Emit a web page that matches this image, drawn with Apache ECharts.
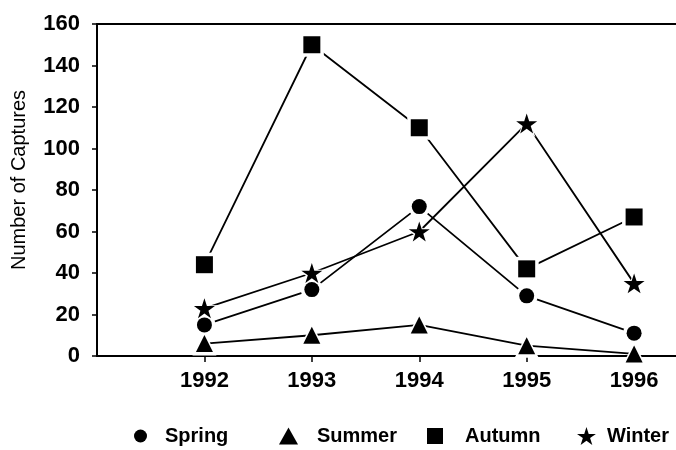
<!DOCTYPE html>
<html>
<head>
<meta charset="utf-8">
<script src="https://cdn.jsdelivr.net/npm/echarts@6/dist/echarts.min.js"></script>
<style>html,body{margin:0;padding:0;background:#fff}#c{width:676px;height:450px}</style>
</head>
<body>
<div id="c"></div>
<script>
var years = [1992, 1993, 1994, 1995, 1996];
var spring = [15, 32, 72, 29, 11];
var summer = [6, 10, 15, 5, 1];
var autumn = [44, 150, 110, 42, 67];
var winter = [23, 40, 60, 112, 35];
var yTicks = [0, 20, 40, 60, 80, 100, 120, 140, 160];

var STAR = 'path://M100,0 L122.45,69.1 L195.11,69.1 L136.33,111.8 L158.78,180.9 L100,138.2 L41.22,180.9 L63.67,111.8 L4.89,69.1 L77.55,69.1 Z';
var FONT = '"Liberation Sans", Arial, sans-serif';

function pairs(vals) { return years.map(function (y, i) { return [y, vals[i]]; }); }

function lineSeries(name, vals) {
  return {
    name: name + ' line', type: 'line', data: pairs(vals), showSymbol: false, symbol: 'none',
    lineStyle: { color: '#000', width: 1.8 }, emphasis: { disabled: true }, silent: true, z: 2
  };
}
function haloSeries(name, vals, symbol, size) {
  return {
    name: name + ' halo', type: 'line', data: pairs(vals), symbol: symbol, symbolSize: size + 7,
    symbolKeepAspect: true, lineStyle: { opacity: 0, width: 0 },
    itemStyle: { color: '#fff', borderWidth: 0 }, emphasis: { disabled: true }, silent: true, z: 3
  };
}
function markSeries(name, vals, symbol, size) {
  return {
    name: name, type: 'line', data: pairs(vals), symbol: symbol, symbolSize: size,
    symbolKeepAspect: true, lineStyle: { opacity: 0, width: 0 },
    itemStyle: { color: '#000', borderWidth: 0 }, emphasis: { disabled: true }, z: 4
  };
}

function mkLegend(name, icon, w, h, left, gap) {
  return {
    data: [{ name: name, icon: icon }],
    left: left, top: 426, padding: 0,
    itemWidth: w, itemHeight: h,
    itemStyle: { color: '#000', borderWidth: 0 },
    textStyle: { color: '#000', fontSize: 20, fontWeight: 'bold', fontFamily: FONT, padding: [0, 0, 0, gap] },
    selectedMode: false
  };
}

var chart = echarts.init(document.getElementById('c'));
chart.setOption({
  animation: false,
  backgroundColor: '#fff',
  grid: { left: 97, right: 0, top: 24, bottom: 94, containLabel: false },
  xAxis: [{
    type: 'value', min: 1991, max: 1996.39, interval: 1,
    axisLine: { show: true, lineStyle: { color: '#000', width: 2 } },
    axisTick: { show: true, length: 6, lineStyle: { color: '#000', width: 1.5 }, customValues: years },
    axisLabel: { customValues: years, color: '#000', fontSize: 22, fontWeight: 'bold', fontFamily: FONT, margin: 14,
      formatter: function (v) { return years.indexOf(v) >= 0 ? String(v) : ''; } },
    splitLine: { show: false }
  }, {
    type: 'value', position: 'top', min: 1991, max: 1996.39,
    axisLine: { show: true, onZero: false, lineStyle: { color: '#000', width: 2 } },
    axisTick: { show: false }, axisLabel: { show: false }, splitLine: { show: false }
  }],
  yAxis: {
    type: 'value', min: 0, max: 160, interval: 20,
    name: 'Number of Captures', nameLocation: 'middle', nameRotate: 90, nameGap: 68,
    nameTextStyle: { color: '#000', fontSize: 20, fontFamily: FONT, padding: [0, 0, 0, 20] },
    axisLine: { show: true, lineStyle: { color: '#000', width: 2 } },
    axisTick: { show: true, length: 5, lineStyle: { color: '#000', width: 1.5 } },
    axisLabel: { color: '#000', fontSize: 22, fontWeight: 'bold', fontFamily: FONT, margin: 17,
      formatter: function (v) { return yTicks.indexOf(v) >= 0 ? String(v) : ''; } },
    splitLine: { show: false }
  },
  legend: [
    mkLegend('Spring', 'circle', 13, 13, 134, 13),
    mkLegend('Summer', 'triangle', 19, 17, 279, 14),
    mkLegend('Autumn', 'rect', 16, 16, 427, 17),
    mkLegend('Winter', STAR, 19, 18, 577, 6)
  ],
  series: [
    lineSeries('Spring', spring), lineSeries('Summer', summer),
    lineSeries('Autumn', autumn), lineSeries('Winter', winter),
    haloSeries('Spring', spring, 'circle', 15), haloSeries('Summer', summer, 'triangle', 17),
    haloSeries('Autumn', autumn, 'rect', 17), haloSeries('Winter', winter, STAR, 21),
    markSeries('Spring', spring, 'circle', 15), markSeries('Summer', summer, 'triangle', 17),
    markSeries('Autumn', autumn, 'rect', 17), markSeries('Winter', winter, STAR, 21)
  ]
});
</script>
</body>
</html>
